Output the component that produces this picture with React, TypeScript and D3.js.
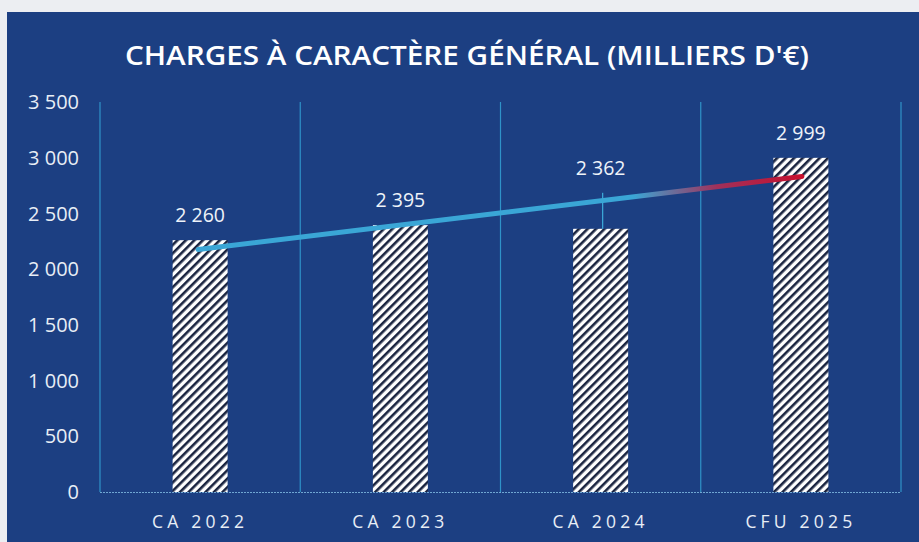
import React from "react";
import * as d3 from "d3";

const categories = ["CA 2022", "CA 2023", "CA 2024", "CFU 2025"];
const values = [2260, 2395, 2362, 2999];
const labelValues = ["2 260", "2 395", "2 362", "2 999"];
const yTicks = [0, 500, 1000, 1500, 2000, 2500, 3000, 3500];
const labelOffsets = [0, 0, 1, 0]; // 1 = label displaced with leader line

const W = 919;
const H = 542;
const M = { left: 100, right: 18, top: 102, bottom: 50 };

export default function App() {
  const x = d3
    .scaleBand<string>()
    .domain(categories)
    .range([M.left, W - M.right])
    .paddingInner(0)
    .paddingOuter(0);
  const y = d3.scaleLinear().domain([0, 3500]).range([H - M.bottom, M.top]);
  const barW = 55;
  const fmt = (v: number) => d3.format(",")(v).replace(/,/g, "\u00a0");

  // linear trendline (least squares over categories)
  const xs = values.map((_, i) => i);
  const mx = d3.mean(xs)!;
  const my = d3.mean(values)!;
  const slope =
    d3.sum(xs.map((xi, i) => (xi - mx) * (values[i] - my))) /
    d3.sum(xs.map((xi) => (xi - mx) ** 2));
  const icpt = my - slope * mx;
  const cx = (i: number) => x(categories[i])! + x.bandwidth() / 2;
  const tx0 = cx(0) - 2;
  const tx1 = cx(3) + 1;
  const ty0 = y(icpt + slope * 0);
  const ty1 = y(icpt + slope * 3);

  const boundaries = [...categories.map((c) => x(c)!), W - M.right];

  return (
    <svg
      width={W}
      height={H}
      style={{ position: "fixed", left: 0, top: 0 }}
      fontFamily="'Open Sans', sans-serif"
    >
      <defs>
        <pattern
          id="hatch"
          patternUnits="userSpaceOnUse"
          width="6"
          height="6"
          patternTransform="rotate(45)"
        >
          <rect width="6" height="6" fill="#ffffff" />
          <rect width="2.6" height="6" fill="#1a2440" />
        </pattern>
        <linearGradient id="trend" gradientUnits="userSpaceOnUse" x1={tx0} y1={ty0} x2={tx1} y2={ty1}>
          <stop offset="0" stopColor="#3aa6d6" />
          <stop offset="0.72" stopColor="#3aa6d6" />
          <stop offset="0.86" stopColor="#a0305a" />
          <stop offset="1" stopColor="#c8102e" />
        </linearGradient>
      </defs>
      <rect width={W} height={H} fill="#eceef2" />
      <rect x={7} y={12} width={W - 7} height={H - 12} fill="#1c3f82" />

      <text
        x={467}
        y={65}
        textAnchor="middle"
        fill="#ffffff"
        fontSize={27}
        fontWeight={600}
        textLength={684}
        lengthAdjust="spacingAndGlyphs"
        fontFamily="'Open Sans', sans-serif"
      >
        CHARGES À CARACTÈRE GÉNÉRAL (MILLIERS D'€)
      </text>

      {/* vertical gridlines */}
      {boundaries.map((bx, i) => (
        <line
          key={i}
          x1={bx}
          x2={bx}
          y1={M.top}
          y2={y(0)}
          stroke="#2f93c8"
          strokeWidth={1.2}
        />
      ))}
      {/* baseline */}
      <line
        x1={M.left}
        x2={W - M.right}
        y1={y(0) + 0.5}
        y2={y(0) + 0.5}
        stroke="#6fa6d2"
        strokeWidth={1}
        strokeDasharray="2 1"
      />

      {/* y tick labels */}
      {yTicks.map((t) => (
        <text
          key={t}
          x={79}
          y={y(t)}
          dy="0.36em"
          textAnchor="end"
          fill="#e8eef6"
          fontSize={20}
        >
          {fmt(t)}
        </text>
      ))}

      {/* bars */}
      {values.map((v, i) => (
        <rect
          key={i}
          x={cx(i) - barW / 2}
          y={y(v)}
          width={barW}
          height={y(0) - y(v)}
          fill="url(#hatch)"
        />
      ))}

      {/* leader line for displaced label */}
      {values.map((v, i) =>
        labelOffsets[i] ? (
          <line
            key={i}
            x1={cx(i) + 2}
            x2={cx(i) + 2}
            y1={y(v) - 36}
            y2={y(v)}
            stroke="#3aa6d6"
            strokeWidth={1.3}
          />
        ) : null
      )}

      {/* trendline */}
      <line
        x1={tx0}
        y1={ty0}
        x2={tx1}
        y2={ty1}
        stroke="url(#trend)"
        strokeWidth={5}
        strokeLinecap="round"
      />

      {/* value labels */}
      {values.map((v, i) => (
        <text
          key={i}
          x={cx(i)}
          y={y(v) - 18 - labelOffsets[i] * 36}
          textAnchor="middle"
          fill="#eef3f9"
          fontSize={19.5}
        >
          {labelValues[i]}
        </text>
      ))}

      {/* category labels */}
      {categories.map((c, i) => (
        <text
          key={c}
          x={cx(i)}
          y={528}
          textAnchor="middle"
          fill="#e8eef6"
          fontSize={17.5}
          letterSpacing={4.2}
        >
          {c}
        </text>
      ))}
    </svg>
  );
}
